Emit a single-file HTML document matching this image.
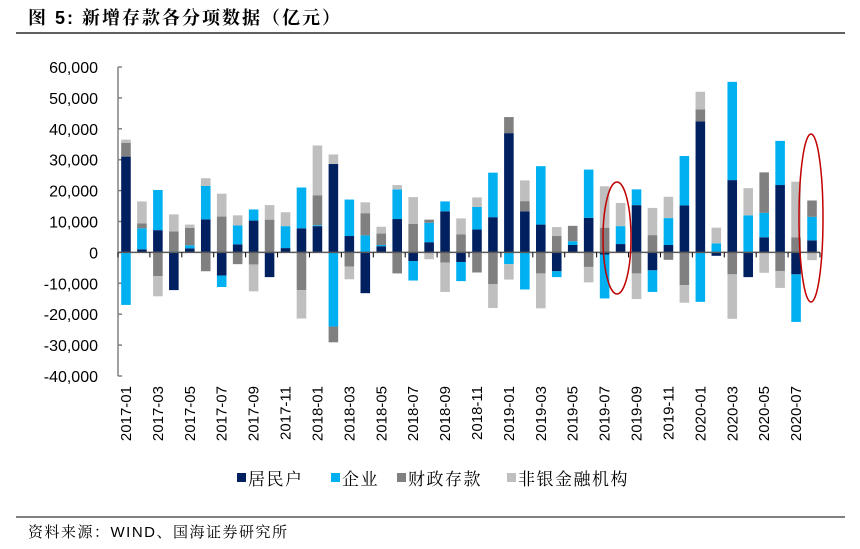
<!DOCTYPE html>
<html><head><meta charset="utf-8"><style>
body{margin:0;background:#fff;}
svg text{font-family:"Liberation Sans","Noto Sans CJK SC",sans-serif;}
svg text.cjk{font-family:"Liberation Sans","Noto Serif CJK SC",serif;}
</style></head><body>
<svg width="860" height="544" viewBox="0 0 860 544" xmlns="http://www.w3.org/2000/svg">
<text class="cjk" x="28" y="24" font-size="18" font-weight="bold" fill="#000" letter-spacing="2">图 5:  新增存款各分项数据（亿元）</text>
<line x1="16" y1="33" x2="845" y2="33" stroke="#000" stroke-width="1.2"/>
<g id="plot"></g>
<g id="legend"></g>
<line x1="16" y1="517" x2="845" y2="517" stroke="#000" stroke-width="1"/>
<text class="cjk" x="28" y="537" font-size="15" fill="#000" letter-spacing="1.5">资料来源：WIND、国海证券研究所</text>
<ellipse cx="617" cy="238" rx="14" ry="56" fill="none" stroke="#c00000" stroke-width="1.5"/>
<ellipse cx="811" cy="218" rx="12" ry="84" fill="none" stroke="#c00000" stroke-width="1.5"/>
</svg>
<script>
const months=["2017-01","2017-02","2017-03","2017-04","2017-05","2017-06","2017-07","2017-08","2017-09","2017-10","2017-11","2017-12","2018-01","2018-02","2018-03","2018-04","2018-05","2018-06","2018-07","2018-08","2018-09","2018-10","2018-11","2018-12","2019-01","2019-02","2019-03","2019-04","2019-05","2019-06","2019-07","2019-08","2019-09","2019-10","2019-11","2019-12","2020-01","2020-02","2020-03","2020-04","2020-05","2020-06","2020-07","2020-08"];
const household=[31000,1000,7200,-12200,1300,10700,-7500,2600,10300,-8000,1400,7800,8500,28600,5300,-13200,2000,10800,-2800,3300,13300,-3100,7400,11400,38600,13300,9000,-6100,2400,11200,-700,2700,15300,-5800,2400,15200,42400,-1100,23400,-8000,4900,21800,-7100,3900];
const corporate=[-17000,6800,13000,300,1000,10800,-3700,6100,3600,0,7100,13200,300,-24000,11800,5500,400,9600,-6300,6300,3200,-6200,7300,14400,-3800,-12000,18900,-1900,1200,15600,-14200,5800,5100,-7000,8700,16000,-16000,2900,31800,12000,7900,14300,-15400,7600];
const fiscal=[4500,1600,-7700,6500,5600,-6100,11600,-3800,-3900,10600,0,-12200,9700,-5100,-4600,7200,3700,-6800,9200,1000,-3300,5800,-6500,-10300,5200,3300,-6800,5300,5000,-4700,8000,0,-6800,5600,-2400,-10600,3900,0,-7100,0,13100,-6100,4900,5300];
const nonbank=[1000,7100,-6500,5500,1100,2500,7400,3300,-8700,4700,4500,-9200,16100,3100,-4100,3500,2200,1400,8700,-2200,-9500,5200,3100,-7700,-5000,6700,-11300,2900,0,-5000,13400,7500,-8300,8800,6900,-5700,5700,5100,-14400,8800,-6600,-5400,18000,-2500];
const yTicks=[60000,50000,40000,30000,20000,10000,0,-10000,-20000,-30000,-40000];
const seriesNames=["居民户","企业","财政存款","非银金融机构"];
const colors=["#002060","#00b0f0","#808080","#bfbfbf"];
const NS="http://www.w3.org/2000/svg";
const plot=document.getElementById('plot');
const X0=118,X1=820,Ytop=67,Ybot=376,vmax=60000,vmin=-40000;
const bw=(X1-X0)/months.length;
const y=v=>Ytop+(vmax-v)/(vmax-vmin)*(Ybot-Ytop);
const xc=i=>X0+bw*(i+0.5);
function mk(t,a,p){const e=document.createElementNS(NS,t);for(const k in a)e.setAttribute(k,a[k]);(p||plot).appendChild(e);return e;}
let ax=mk('line',{x1:X0,y1:Ytop,x2:X0,y2:Ybot,stroke:'#808080','stroke-width':1.5});


yTicks.forEach(v=>{
 const tk=mk('line',{x1:X0,y1:y(v),x2:X0+4,y2:y(v),stroke:'#808080','stroke-width':1.5});
 
 
 const t=mk('text',{x:98,y:y(v)+6,'text-anchor':'end','font-size':16,fill:'#000'});
 t.textContent=v.toLocaleString('en-US');
 
 
});
const series=[household,corporate,fiscal,nonbank];
const w=bw*0.6;
months.forEach((m,i)=>{
 let pos=0,neg=0;
 series.forEach((s,k)=>{
  const v=s[i];if(!v)return;
  let a,b;
  if(v>0){a=pos;b=pos+v;pos=b;}else{a=neg;b=neg+v;neg=b;}
  const r=mk('rect',{x:xc(i)-w/2,y:Math.min(y(a),y(b)),width:w,height:Math.abs(y(a)-y(b)),fill:colors[k]});
  
  
 });
});
const z=mk('line',{x1:X0,y1:y(0),x2:X1,y2:y(0),stroke:'#595959','stroke-width':1.5});


for(let i=0;i<=months.length;i+=2){
 const tk=mk('line',{x1:X0+bw*i,y1:y(0),x2:X0+bw*i,y2:y(0)+5,stroke:'#000','stroke-width':1});
 
 
}
months.forEach((m,i)=>{
 if(i%2)return;
 const t=mk('text',{x:0,y:0,'text-anchor':'end','font-size':15,fill:'#000',transform:`translate(${xc(i)+5},386) rotate(-90)`});
 t.textContent=m;
 
 
});
const lg=document.getElementById('legend');
const lx=[237,331,397,507];
seriesNames.forEach((n,k)=>{
 const r=mk('rect',{x:lx[k],y:473,width:9,height:9,fill:colors[k]},lg);
 
 
 const t=mk('text',{x:lx[k]+11,y:485,'font-size':17,fill:'#000','class':'cjk','letter-spacing':'1.5'},lg);
 t.textContent=n;
 
 
});
</script>
</body></html>
